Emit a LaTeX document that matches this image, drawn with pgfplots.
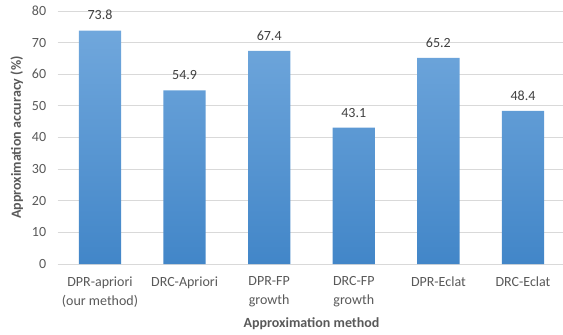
\documentclass[border=0pt]{standalone}
\usepackage{pgfplots}
\pgfplotsset{compat=1.18}
\usepackage{fontspec}
\setmainfont{Carlito}

\definecolor{txtgray}{HTML}{595959}
\definecolor{lblgray}{HTML}{404040}
\definecolor{gridgray}{HTML}{D9D9D9}
\definecolor{bartop}{HTML}{70A7DC}
\definecolor{barbot}{HTML}{4286C8}

\begin{document}
\begin{tikzpicture}
\begin{axis}[
  at={(0,0)}, anchor=south west,
  scale only axis,
  width=507.6pt, height=253pt,
  xmin=-0.5, xmax=5.5,
  ymin=0, ymax=80,
  ytick={0,10,...,80},
  xtick={0,1,2,3,4,5},
  xticklabels={{DPR-apriori\\(our method)},{DRC-Apriori},{DPR-FP\\growth},{DRC-FP\\growth},{DPR-Eclat},{DRC-Eclat}},
  axis line style={draw=none},
  major tick length=0pt,
  ymajorgrids,
  major grid style={color=gridgray, line width=1pt},
  /pgf/number format/assume math mode=true,
  tick label style={font=\fontsize{14}{19}\selectfont, text=txtgray},
  yticklabel style={xshift=-8pt},
  xticklabel style={align=center, anchor=north, yshift=-9pt},
  xlabel={Approximation method},
  ylabel={Approximation accuracy (\%)},
  label style={font=\fontsize{14}{17}\selectfont\bfseries, text=txtgray},
  xlabel style={at={(axis description cs:0.5,0)}, anchor=center, yshift=-60pt},
  ylabel style={at={([xshift=-41pt]axis description cs:0,0.5)}, anchor=center},
  nodes near coords,
  nodes near coords style={font=\fontsize{14}{17}\selectfont, text=lblgray, yshift=7pt},
]
\addplot[ybar, bar width=0.5, draw=none, top color=bartop, bottom color=barbot]
  coordinates {(0,73.8) (1,54.9) (2,67.4) (3,43.1) (4,65.2) (5,48.4)};
\end{axis}
\pgfresetboundingbox
\path (-57.7pt,-71pt) rectangle (505.3pt,264pt);
\end{tikzpicture}
\end{document}
